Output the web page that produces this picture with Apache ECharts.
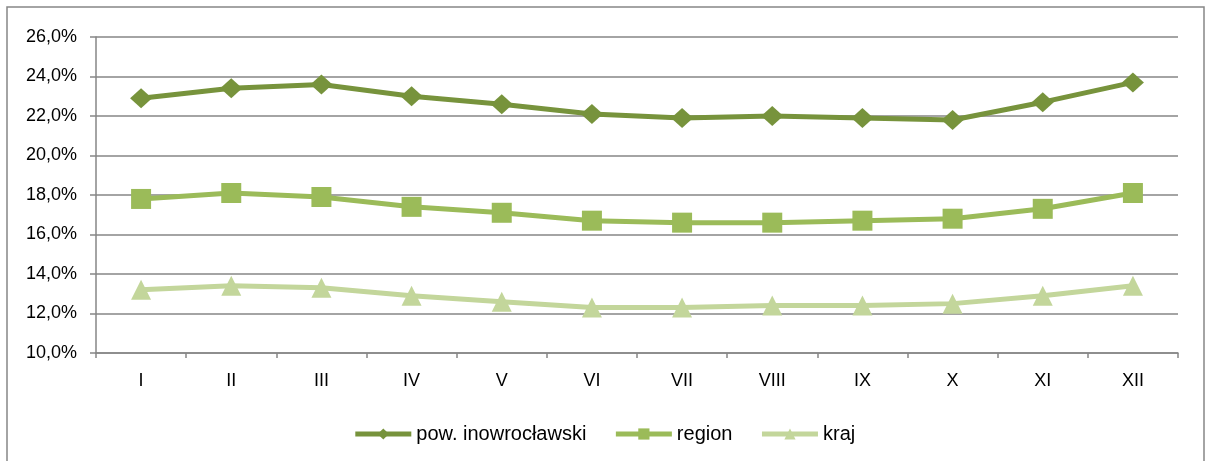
<!DOCTYPE html>
<html>
<head>
<meta charset="utf-8">
<script src="https://cdn.jsdelivr.net/npm/echarts@6/dist/echarts.min.js"></script>
<style>
html,body{margin:0;padding:0;background:#fff;}
#chart{width:1208px;height:461px;}
</style>
</head>
<body>
<div id="chart"></div>
<script>
var categories = ['I','II','III','IV','V','VI','VII','VIII','IX','X','XI','XII'];
var powValues = [22.9, 23.4, 23.6, 23.0, 22.6, 22.1, 21.9, 22.0, 21.9, 21.8, 22.7, 23.7];
var regionValues = [17.8, 18.1, 17.9, 17.4, 17.1, 16.7, 16.6, 16.6, 16.7, 16.8, 17.3, 18.1];
var krajValues = [13.2, 13.4, 13.3, 12.9, 12.6, 12.3, 12.3, 12.4, 12.4, 12.5, 12.9, 13.4];
var seriesNames = ['pow. inowrocławski', 'region', 'kraj'];
var yMin = 10, yMax = 26, yStep = 2;

var font = 'Liberation Sans, Arial, sans-serif';
var gridColor = '#868686';
var chart = echarts.init(document.getElementById('chart'), null, {renderer: 'canvas'});
chart.setOption({
  animation: false,
  backgroundColor: '#fff',
  graphic: [{
    type: 'rect',
    shape: {x: 7, y: 7, width: 1197, height: 470},
    style: {fill: 'none', stroke: '#868686', lineWidth: 1.5},
    silent: true
  }],
  grid: {left: 96, right: 30, top: 37, bottom: 108, containLabel: false},
  legend: {
    top: 419,
    left: 'center',
    itemWidth: 56,
    itemHeight: 14,
    itemGap: 27,
    lineStyle: {width: 5},
    textStyle: {fontFamily: font, fontSize: 20, color: '#000'},
    data: seriesNames
  },
  xAxis: {
    type: 'category',
    data: categories,
    boundaryGap: true,
    axisLine: {lineStyle: {color: gridColor, width: 1.5}},
    axisTick: {show: true, alignWithLabel: false, length: 5, lineStyle: {color: gridColor, width: 1.5}},
    axisLabel: {fontFamily: font, fontSize: 18, color: '#000', margin: 19}
  },
  yAxis: {
    type: 'value',
    min: yMin, max: yMax, interval: yStep,
    axisLine: {show: true, lineStyle: {color: gridColor, width: 1.5}},
    axisTick: {show: true, length: 6, lineStyle: {color: gridColor, width: 1.5}},
    splitLine: {lineStyle: {color: gridColor, width: 1.5}},
    axisLabel: {
      fontFamily: font, fontSize: 18, color: '#000', margin: 19,
      formatter: function (v) { return v.toFixed(1).replace('.', ',') + '%'; }
    }
  },
  series: [
    {
      name: seriesNames[0], type: 'line', data: powValues,
      symbol: 'diamond', symbolSize: [22, 20],
      lineStyle: {color: '#77933C', width: 5},
      itemStyle: {color: '#77933C'}
    },
    {
      name: seriesNames[1], type: 'line', data: regionValues,
      symbol: 'rect', symbolSize: [20, 20],
      lineStyle: {color: '#9BBB59', width: 5},
      itemStyle: {color: '#9BBB59'}
    },
    {
      name: seriesNames[2], type: 'line', data: krajValues,
      symbol: 'triangle', symbolSize: [20, 20],
      lineStyle: {color: '#C3D69B', width: 5},
      itemStyle: {color: '#C3D69B'}
    }
  ]
});
</script>
</body>
</html>
